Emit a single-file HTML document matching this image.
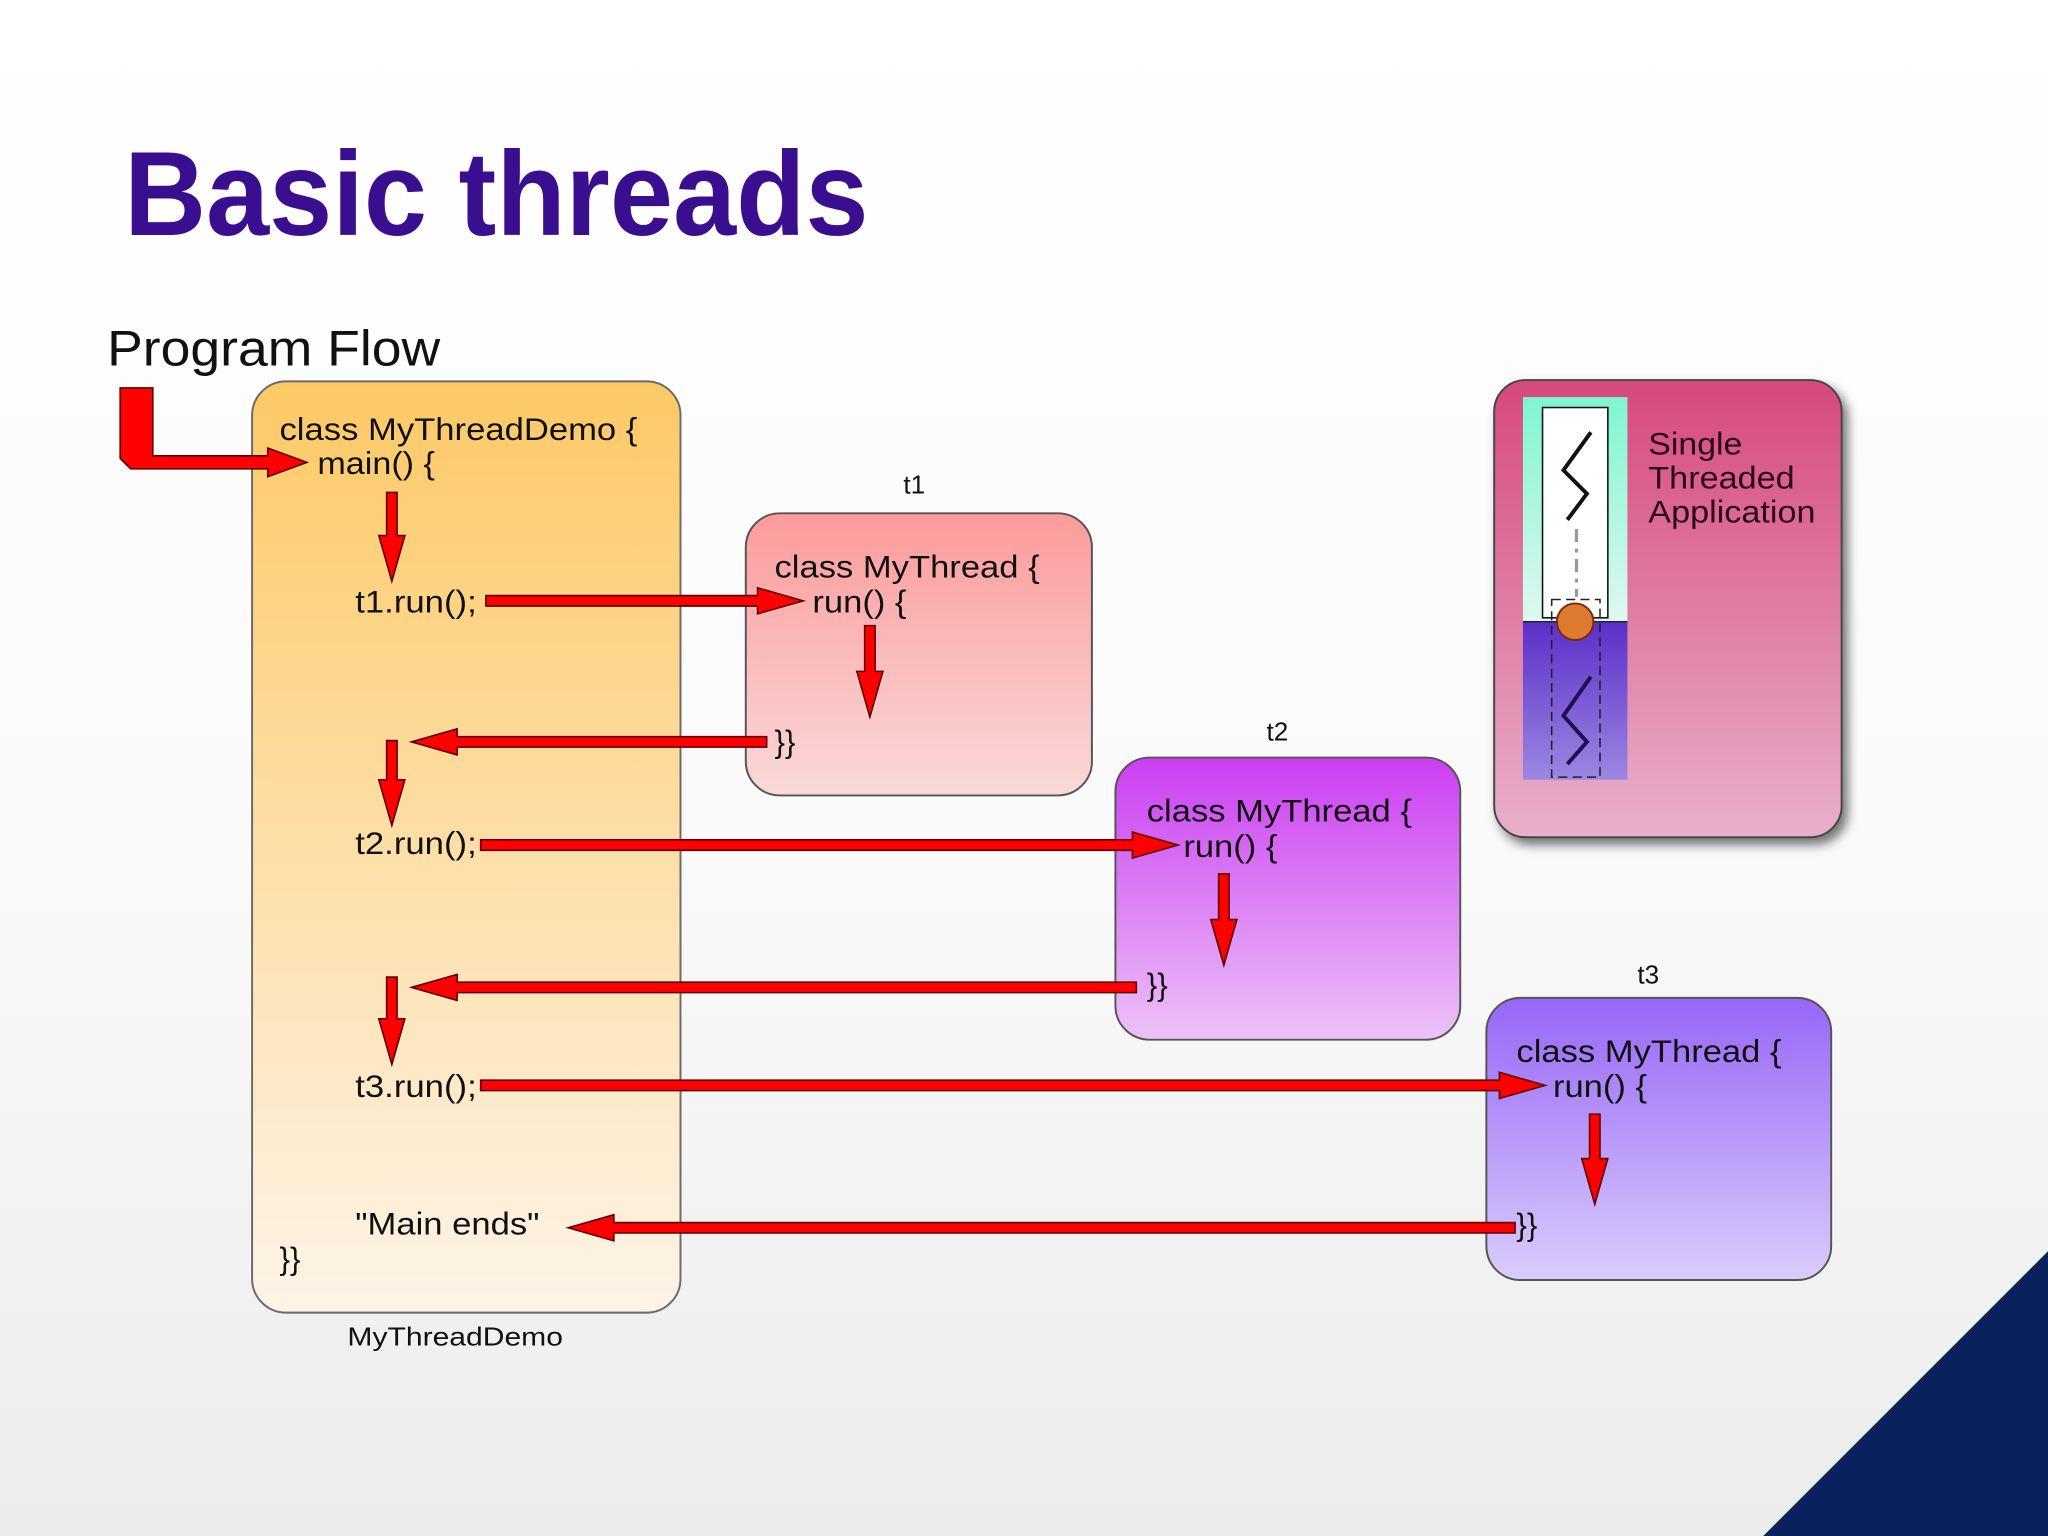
<!DOCTYPE html>
<html><head><meta charset="utf-8"><style>
html,body{margin:0;padding:0;}
body{width:2048px;height:1536px;overflow:hidden;}
svg{display:block;}
text{font-family:"Liberation Sans",sans-serif;}
</style></head><body>
<svg width="2048" height="1536" viewBox="0 0 1568 1176" xmlns="http://www.w3.org/2000/svg">
<defs>
<linearGradient id="bg" x1="0" y1="0" x2="0" y2="1"><stop offset="0" stop-color="#ffffff"/><stop offset="0.55" stop-color="#fafafa"/><stop offset="1" stop-color="#ececec"/></linearGradient>
<linearGradient id="gm" x1="0" y1="0" x2="0" y2="1"><stop offset="0" stop-color="#fdc966"/><stop offset="1" stop-color="#fdf4e8"/></linearGradient>
<linearGradient id="g1" x1="0" y1="0" x2="0" y2="1"><stop offset="0" stop-color="#fc9b9b"/><stop offset="1" stop-color="#f9d9da"/></linearGradient>
<linearGradient id="g2" x1="0" y1="0" x2="0" y2="1"><stop offset="0" stop-color="#cb3ef2"/><stop offset="1" stop-color="#ecc2f7"/></linearGradient>
<linearGradient id="g3" x1="0" y1="0" x2="0" y2="1"><stop offset="0" stop-color="#9766f7"/><stop offset="1" stop-color="#dacdfb"/></linearGradient>
<linearGradient id="gs" x1="0" y1="0" x2="0" y2="1"><stop offset="0" stop-color="#d6497c"/><stop offset="1" stop-color="#e8b0ca"/></linearGradient>
<linearGradient id="gt" x1="0" y1="0" x2="0" y2="1"><stop offset="0" stop-color="#7ef5d0"/><stop offset="1" stop-color="#dff8ef"/></linearGradient>
<linearGradient id="gp" x1="0" y1="0" x2="0" y2="1"><stop offset="0" stop-color="#5a2fc8"/><stop offset="1" stop-color="#9d86e2"/></linearGradient>
<filter id="sh" x="-10%" y="-10%" width="130%" height="130%"><feDropShadow dx="4" dy="5" stdDeviation="4" flood-color="#000" flood-opacity="0.55"/></filter>
</defs>
<rect width="1568" height="1176" fill="url(#bg)"/>
<polygon points="1568,958 1350,1176 1568,1176" fill="#0b215e"/>

<text x="95" y="180" font-size="92" font-weight="bold" fill="#3a0f8f" textLength="570" lengthAdjust="spacingAndGlyphs">Basic threads</text>
<text x="82" y="280" font-size="38" fill="#111" textLength="255" lengthAdjust="spacingAndGlyphs">Program Flow</text>

<!-- main box -->
<rect x="193" y="292" width="328" height="713" rx="26" fill="url(#gm)" stroke="#6a6a6a" stroke-width="1.5"/>
<g font-size="24" fill="#111">
<text x="214" y="337" textLength="274" lengthAdjust="spacingAndGlyphs">class MyThreadDemo {</text>
<text x="243" y="363" textLength="90" lengthAdjust="spacingAndGlyphs">main() {</text>
<text x="272" y="469" textLength="93" lengthAdjust="spacingAndGlyphs">t1.run();</text>
<text x="272" y="654" textLength="93" lengthAdjust="spacingAndGlyphs">t2.run();</text>
<text x="272" y="840" textLength="93" lengthAdjust="spacingAndGlyphs">t3.run();</text>
<text x="272" y="945" textLength="141" lengthAdjust="spacingAndGlyphs">"Main ends"</text>
<text x="214" y="972">}}</text>
</g>
<text x="266" y="1030" font-size="20" fill="#111" textLength="165" lengthAdjust="spacingAndGlyphs">MyThreadDemo</text>

<!-- t1 -->
<text x="700" y="378" font-size="20" fill="#111" text-anchor="middle">t1</text>
<rect x="571" y="393" width="265" height="216" rx="26" fill="url(#g1)" stroke="#555" stroke-width="1.5"/>
<g font-size="24" fill="#111"><text x="593" y="442" textLength="203" lengthAdjust="spacingAndGlyphs">class MyThread {</text><text x="622" y="469" textLength="72" lengthAdjust="spacingAndGlyphs">run() {</text><text x="593" y="576">}}</text></g>
<!-- t2 -->
<text x="978" y="567" font-size="20" fill="#111" text-anchor="middle">t2</text>
<rect x="854" y="580" width="264" height="216" rx="26" fill="url(#g2)" stroke="#555" stroke-width="1.5"/>
<g font-size="24" fill="#111"><text x="878" y="629" textLength="203" lengthAdjust="spacingAndGlyphs">class MyThread {</text><text x="906" y="656" textLength="72" lengthAdjust="spacingAndGlyphs">run() {</text><text x="878" y="762">}}</text></g>
<!-- t3 -->
<text x="1262" y="753" font-size="20" fill="#111" text-anchor="middle">t3</text>
<rect x="1138" y="764" width="264" height="216" rx="26" fill="url(#g3)" stroke="#555" stroke-width="1.5"/>
<g font-size="24" fill="#111"><text x="1161" y="813" textLength="203" lengthAdjust="spacingAndGlyphs">class MyThread {</text><text x="1189" y="840" textLength="72" lengthAdjust="spacingAndGlyphs">run() {</text><text x="1161" y="946">}}</text></g>

<!-- single threaded -->
<rect x="1144" y="291" width="266" height="350" rx="24" fill="url(#gs)" stroke="#444" stroke-width="1.5" filter="url(#sh)"/>
<rect x="1166" y="304" width="80" height="172" fill="url(#gt)"/>
<rect x="1166" y="476" width="80" height="121" fill="url(#gp)"/>
<rect x="1181" y="312" width="50" height="161" fill="#fff" stroke="#111" stroke-width="1.2"/>
<polyline points="1218,331 1197,360 1215,378 1200,398" fill="none" stroke="#111" stroke-width="3"/>
<line x1="1207" y1="405" x2="1207" y2="457" stroke="#999" stroke-width="2.5" stroke-dasharray="10,5,3,5"/>
<rect x="1188" y="459" width="37" height="136" fill="none" stroke="#222" stroke-width="1.2" stroke-dasharray="7,4"/>
<line x1="1166" y1="476" x2="1246" y2="476" stroke="#222" stroke-width="1"/>
<polyline points="1218,518 1197,548 1215,568 1200,585" fill="none" stroke="#1c1050" stroke-width="3"/>
<circle cx="1206" cy="476" r="14" fill="#dd7a30" stroke="#7a2a10" stroke-width="1.5"/>
<g font-size="24" fill="#2a0a1a"><text x="1262" y="348" textLength="72" lengthAdjust="spacingAndGlyphs">Single</text><text x="1262" y="374" textLength="112" lengthAdjust="spacingAndGlyphs">Threaded</text><text x="1262" y="400" textLength="128" lengthAdjust="spacingAndGlyphs">Application</text></g>

<!-- arrows -->
<g fill="#ff0000" stroke="#5a0000" stroke-width="1.2" stroke-linejoin="miter">
<polygon points="92,297 117,297 117,349 205,349 205,343 235,354 205,365 205,359 100,359 92,351"/>
<polygon points="372,456 580,456 580,450 615,460 580,470 580,464 372,464"/>
<polygon points="587,564 350,564 350,558 315,568 350,578 350,572 587,572"/>
<polygon points="368,643 867,643 867,637 902,647 867,657 867,651 368,651"/>
<polygon points="870,752 350,752 350,746 315,756 350,766 350,760 870,760"/>
<polygon points="368,827 1148,827 1148,821 1183,831 1148,841 1148,835 368,835"/>
<polygon points="1160,936 470,936 470,930 435,940 470,950 470,944 1160,944"/>
<polygon points="296,377 304,377 304,410 310,410 300,445 290,410 296,410"/>
<polygon points="296,567 304,567 304,597 310,597 300,632 290,597 296,597"/>
<polygon points="296,748 304,748 304,780 310,780 300,815 290,780 296,780"/>
<polygon points="662,479 670,479 670,514 676,514 666,549 656,514 662,514"/>
<polygon points="933,669 941,669 941,704 947,704 937,739 927,704 933,704"/>
<polygon points="1217,853 1225,853 1225,887 1231,887 1221,922 1211,887 1217,887"/>
</g>
</svg>
</body></html>
